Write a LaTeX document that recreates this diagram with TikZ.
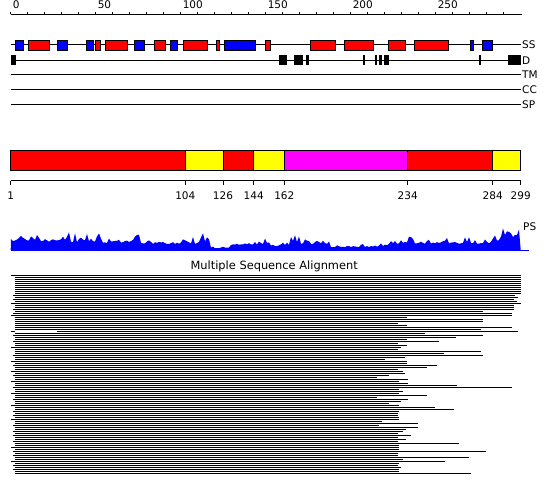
\documentclass[tikz,border=0pt]{standalone}
\usepackage{fontspec}
\setmainfont{DejaVu Sans}
\usetikzlibrary{positioning}
\definecolor{helix}{HTML}{FF0000}
\definecolor{strand}{HTML}{0000FF}
\definecolor{domyellow}{HTML}{FFFF00}
\definecolor{dommagenta}{HTML}{FF00FF}
\definecolor{psblue}{HTML}{0000FF}

\begin{document}
\begin{tikzpicture}[x=1pt, y=-1pt, line width=1pt,
    lab/.style={font=\fontsize{10.5}{12}\selectfont, inner sep=1pt},
    sselem/.style={draw=black, line width=0.8pt}]
  \useasboundingbox (0,0) rectangle (550,495);
  % residue ruler
  \draw (10.7,14.3) -- (521.7,14.3);
  \foreach \t in {0,10,...,290}
    \draw ({10.7+1.7*\t},14.3) -- ({10.7+1.7*\t},12);
  \foreach \t in {0,50,...,250}
    \node[lab, anchor=base west] (r\t) at ({11.3+1.7*\t},8.3) {\t};
  % track lines
  \foreach \y/\name in {45/SS, 60.3/D, 75/TM, 90/CC, 105/SP} {
    \draw (10.7,\y) coordinate (\name start) -- (520.7,\y) coordinate (\name end);
    \node[lab, right=0pt of \name end] (\name lab) {\name};
  }
  \foreach \a/\b/\col in {%
    15.3/23.7/strand, 28.3/49.7/helix, 57.3/67.7/strand, 86.3/93.7/strand,
    95.3/100.7/helix, 105.3/127.7/helix, 134.3/144.7/strand, 154.3/165.7/helix,
    170.3/177.7/strand, 183.3/207.7/helix, 216.3/219.7/helix, 224.3/255.7/strand,
    265.3/270.3/helix, 310.3/335.3/helix, 344.3/373.3/helix, 388.3/405.3/helix,
    414.3/448.3/helix, 470.3/473.7/strand, 482.3/492.7/strand%
  }
    \filldraw[sselem, fill=\col] (\a,40.3) rectangle (\b,50);
  \foreach \a/\b in {10.7/15.7, 279/286.7, 293.7/295.7, 296.3/303.3, 305.7/308.7,
    363/364.7, 375/377, 379.3/381.7, 383.7/388.7, 479/480.7, 508/520.7}
    \fill[black] (\a,55) rectangle (\b,65.5);
  % domain bar
  \foreach \a/\b/\col in {10.7/185.3/helix, 185.3/223/domyellow, 223/253.7/helix,
    253.7/284.3/domyellow, 284.3/407.7/dommagenta, 407.7/492.7/helix, 492.7/520.7/domyellow}
    \filldraw[fill=\col, draw=black] (\a,150.7) rectangle (\b,170.3);
  \draw (10.7,180.7) -- (520.7,180.7);
  \foreach \x/\v in {10.7/1, 185.3/104, 223/126, 253.7/144, 284.3/162, 407.7/234, 492.7/284, 520.7/299} {
    \draw (\x,180.7) -- (\x,185.5);
    \node[lab, anchor=base] (d\v) at (\x,199.3) {\v};
  }
  % PS profile
  \pgfmathsetseed{11}
  \fill[psblue] (10.7,250) \foreach \x/\h in {11/15, 21/17, 31/18, 41/15, 51/17, 61/18,
    71/14, 81/16, 91/15, 101/12, 111/11, 121/12, 131/16, 141/12, 151/11, 161/11, 171/11,
    181/13, 191/11, 201/14, 211/3, 221/4, 231/9, 241/10, 251/10, 261/11, 271/7, 281/9,
    291/14, 301/11, 311/10, 321/10, 331/5, 341/5, 351/5, 361/5, 371/6, 381/7, 391/11,
    401/13, 411/12, 421/11, 431/11, 441/12, 451/11, 461/12, 471/11, 481/12, 491/14,
    501/24, 511/22} {
      \foreach \d in {0,2,4,6,8} { -- ({\x+\d},{250-\h*(0.55+0.7*rnd*rnd)}) }
    } -- (520.7,250) -- cycle;
  \draw[psblue] (10.7,250) -- (529,250);
  \node[lab, anchor=base west] (pslab) at (521.7,230) {PS};
  % alignment
  \node[lab, font=\fontsize{11.4}{13}\selectfont, anchor=base] (msa) at (274.2,269.8)
    {Multiple Sequence Alignment};
  \foreach \e [count=\k from 0] in {520.7, 520.7, 520.7, 520.7, 520.7, 520.7, 520.7,
    520.7, 520.7, 520.7, 514.7, 518.3, 513.7, 516.7, 520.7, 513.7, 513.7, 513.7,
    482.7, 511.7, 511.7, 407.3, 482.7, 482.7, 398.3, 407.3, 511.7, 480.7, 518.3,
    425, 482.7, 455.7, 407.3, 438.7, 398.3, 407.3, 400.7, 398.3, 480.7, 443.7,
    482.7, 405.3, 385.3, 407.3, 407.3, 436.7, 426.7, 398.3, 402.7, 404.7, 388.7,
    376.7, 407.7, 398.7, 407.7, 456.7, 511.7, 398.7, 402.7, 398.7, 426.7, 376.7,
    407.7, 400.7, 388.7, 398.7, 434.7, 453.7, 398.7, 397.7, 397.7, 398.7, 398.7,
    381.7, 417.7, 378.7, 417.7, 405.7, 402.7, 397.7, 410.7, 397.7, 405.7, 397.7,
    458.7, 398.7, 398.7, 398.7, 485.7, 397.7, 397.7, 468.7, 402.7, 444.7, 398.7,
    397.7, 400.7, 398.7, 398.7, 470.7}
    \draw (15.3,{275.5+2*\k}) -- (\e,{275.5+2*\k});
  % ragged left ends
  \foreach \k/\s in {0/11, 2/14.7, 10/13.3, 12/13.3, 14/11, 17/13.3, 19/13.3, 20/11,
    28/11, 30/13.3, 33/13.3, 36/11, 40/13.3, 43/11, 45/13.3, 48/11, 50/13.3, 53/11,
    56/13.3, 59/11, 62/13.3, 65/11, 68/13.3, 70/13.3, 72/11, 75/13.3, 78/13.3,
    80/13.3, 83/13.3, 86/11, 88/13.3, 90/13.3, 93/11, 95/13.3, 97/13.3}
    \draw (\s,{275.5+2*\k}) -- (15.3,{275.5+2*\k});
  \draw[white] (15.3,331.5) -- (57,331.5);
\end{tikzpicture}
\end{document}
